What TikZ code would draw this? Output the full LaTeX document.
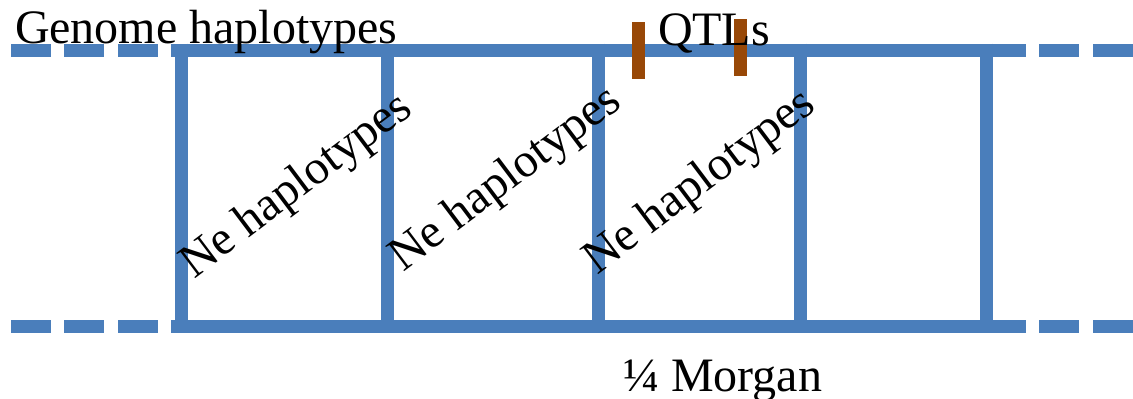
\documentclass[tikz,border=0pt]{standalone}
\usepackage{fontspec}
\setmainfont{Liberation Serif}
\definecolor{chromblue}{RGB}{74,126,187}
\definecolor{qtlbrown}{RGB}{152,72,7}
\begin{document}
\begin{tikzpicture}[x=1pt,y=-1pt,
  chrom/.style={draw=chromblue,line width=13pt,line cap=butt},
  qtlmark/.style={draw=qtlbrown,line width=13pt,line cap=butt},
  lbl/.style={inner sep=0pt,outer sep=0pt,anchor=base west,font=\fontsize{48}{58}\selectfont},
  nelbl/.style={lbl,rotate=37}]
\useasboundingbox (0,0) rectangle (1133,399);
% top chromosome
\foreach \a/\b in {11/51,64/104,118/158,986/1026,1039/1079,1093/1133}{
  \draw[chrom] (\a,50) -- (\b,50);
  \draw[chrom] (\a,326) -- (\b,326);
}
\coordinate (tl) at (171,50);
\coordinate (tr) at (986,50);
\coordinate (bl) at (171,326);
\coordinate (br) at (986,326);
\draw[chrom] (tl) -- (tr);
\draw[chrom] (bl) -- (br);
% rungs
\foreach \x/\n in {181/a,387/b,598/c,800/d,986/e}{
  \coordinate (t\n) at (\x,43.5);
  \coordinate (b\n) at (\x,332.5);
  \draw[chrom] (t\n) -- (b\n);
}
% QTL marks
\coordinate (q1t) at (638,22);
\coordinate (q1b) at (638,79);
\coordinate (q2t) at (740,19);
\coordinate (q2b) at (740,76);
\draw[qtlmark] (q1t) -- (q1b);
\draw[qtlmark] (q2t) -- (q2b);
% labels
\node[lbl] (genome) at (15,43) {Genome haplotypes};
\node[lbl] (qtls) at (658,45) {QTLs};
\node[lbl] (morgan) at (623,391) {¼ Morgan};
\node[nelbl] (ne1) at (194,279) {Ne haplotypes};
\node[nelbl] (ne2) at (403,272) {Ne haplotypes};
\node[nelbl] (ne3) at (597,275) {Ne haplotypes};
\end{tikzpicture}
\end{document}
